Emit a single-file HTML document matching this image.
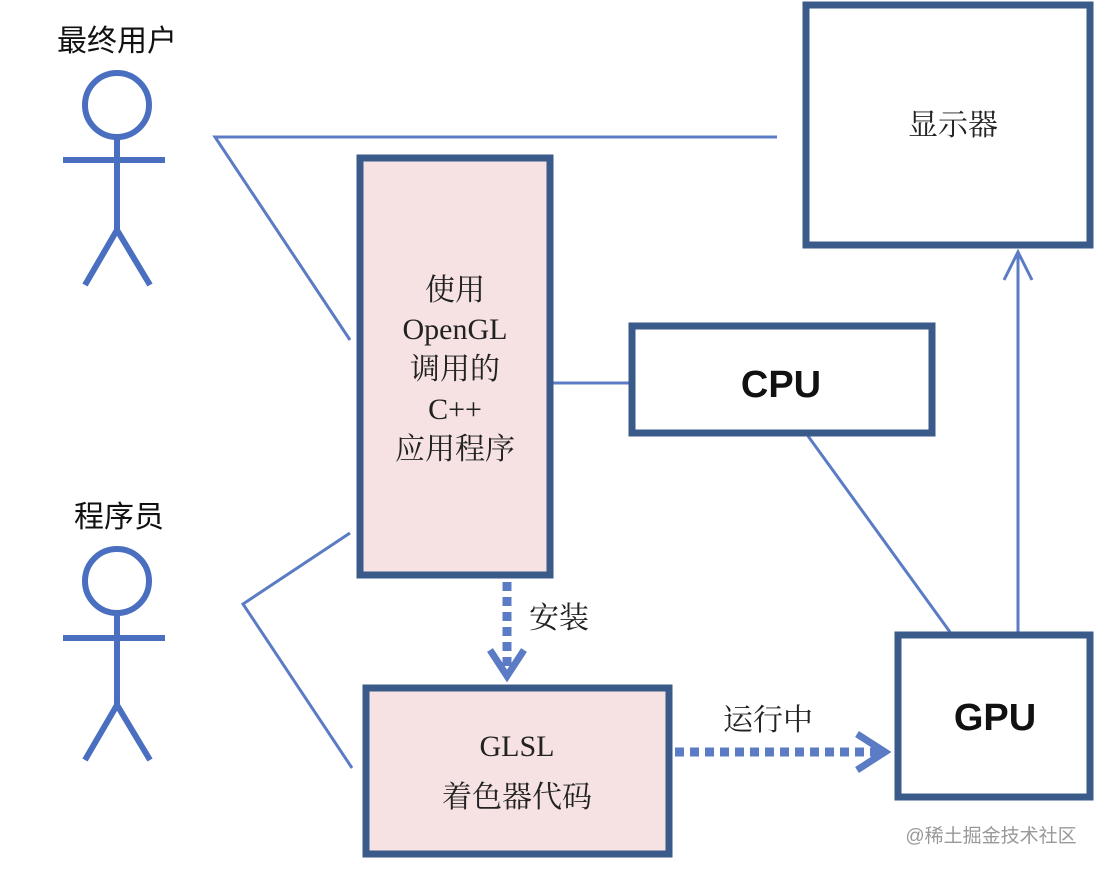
<!DOCTYPE html>
<html><head><meta charset="utf-8"><style>
html,body{margin:0;padding:0;background:#fff;width:1096px;height:870px;overflow:hidden}
</style></head><body>
<svg width="1096" height="870" viewBox="0 0 1096 870" xmlns="http://www.w3.org/2000/svg">
<g fill="none" stroke="#5b7cc4" stroke-width="3">
<polyline points="777,137 215,137 350,340"/>
<polyline points="350,533 243,604 352,768"/>
<line x1="553" y1="383" x2="629" y2="383"/>
<line x1="808" y1="436" x2="950" y2="632"/>
<line x1="1018" y1="632" x2="1018" y2="252"/>
<polyline points="1004,280 1018,252 1032,280"/>
</g>
<g fill="none" stroke="#4a6fc1" stroke-width="6">
<circle cx="117" cy="105" r="32"/>
<line x1="117" y1="137" x2="117" y2="230"/>
<line x1="63" y1="160" x2="165" y2="160"/>
<polyline points="85,285 117,230 150,285"/>
<circle cx="117" cy="581" r="32"/>
<line x1="117" y1="613" x2="117" y2="705"/>
<line x1="63" y1="638" x2="165" y2="638"/>
<polyline points="85,760 117,705 150,760"/>
</g>
<g stroke="#5b7cc4" stroke-width="9" fill="none">
<line x1="507" y1="582" x2="507" y2="672" stroke-dasharray="9,6"/>
<polyline points="490,650 507,676 524,650" stroke-width="7"/>
<line x1="675" y1="752" x2="880" y2="752" stroke-dasharray="9,6"/>
<polyline points="857,734 885,752 857,770" stroke-width="7"/>
</g>
<g stroke="#3a5a8a" stroke-width="7">
<rect x="806" y="5" width="284" height="240" fill="#fff"/>
<rect x="360" y="158" width="190" height="417" fill="#f6e2e2"/>
<rect x="632" y="326" width="300" height="107" fill="#fff"/>
<rect x="366" y="688" width="303" height="166" fill="#f6e2e2"/>
<rect x="898" y="635" width="192" height="162" fill="#fff"/>
</g>
<g font-family="'Liberation Serif','Noto Serif CJK SC',serif" font-size="30" fill="#222" text-anchor="middle">
<text x="953" y="135">显示器</text>
<text x="455" y="300">使用</text>
<text x="455" y="339">OpenGL</text>
<text x="455" y="379">调用的</text>
<text x="455" y="419">C++</text>
<text x="455" y="459">应用程序</text>
<text x="517" y="756">GLSL</text>
<text x="517" y="807">着色器代码</text>
<text x="559" y="628">安装</text>
<text x="768" y="730">运行中</text>
</g>
<g font-family="'Liberation Serif','Noto Sans CJK SC',sans-serif" font-size="30" fill="#111" text-anchor="middle">
<text x="117" y="51">最终用户</text>
<text x="119" y="527">程序员</text>
</g>
<g font-family="'Liberation Sans','DejaVu Sans',sans-serif" font-weight="bold" font-size="38" fill="#111" text-anchor="middle">
<text x="781" y="397">CPU</text>
<text x="995" y="730">GPU</text>
</g>
<text x="991" y="842" font-family="'Liberation Sans','Noto Sans CJK SC',sans-serif" font-size="19" fill="#999" text-anchor="middle">@稀土掘金技术社区</text>
</svg>
</body></html>
